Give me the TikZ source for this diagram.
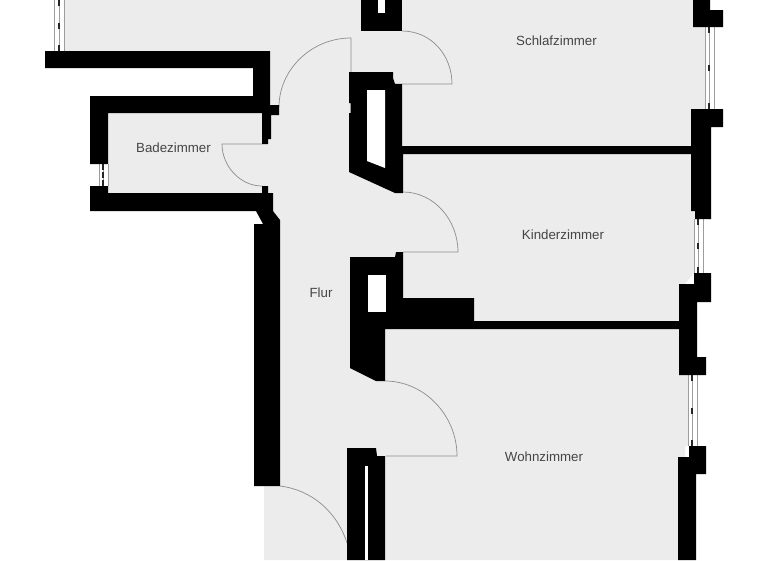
\documentclass[tikz,border=0pt]{standalone}
\usepackage{fontspec}
\setmainfont{Liberation Sans}
\definecolor{floorgray}{HTML}{ECECEC}
\definecolor{doorline}{HTML}{8C8C8C}
\definecolor{labeltext}{HTML}{454545}
\newcommand{\winV}[5]{%
  \draw[winline] (#1,#4) -- (#1,#5);
  \draw[winline] (#2,#4) -- (#2,#5);
  \draw[winline] (#3,#4) -- (#3,#5);
  \draw[windash] (#2,#4) -- ++(0,6);
  \draw[windash] (#2,#5) -- ++(0,-6);
  \draw[windash] (#2,{(#4+#5)/2-3}) -- ++(0,6);
}
\tikzset{
  wall/.style={fill=black,draw=none},
  hole/.style={fill=white,draw=none},
  doorarc/.style={draw=doorline,line width=0.7pt},
  winline/.style={draw=doorline!85,line width=0.9pt},
  windash/.style={draw=black!85,line width=1.6pt},
  roomlabel/.style={text=labeltext,font=\fontsize{13.3}{16}\selectfont,inner sep=0pt}
}
\begin{document}
\begin{tikzpicture}[x=1pt,y=-1pt]
\useasboundingbox (0,0) rectangle (768,560);
\fill[white] (0,0) rectangle (768,560);
% floor
\fill[floorgray] (64,0) -- (700,0) -- (700,27) -- (705,27) -- (705,109) -- (700,109) -- (700,219) -- (694,219) -- (694,273) -- (685,284) -- (685,375) -- (688,375) -- (688,446) -- (685,446) -- (685,560) -- (264,560) -- (264,486) -- (270,486) -- (270,205) -- (262,205) -- (262,193) -- (108,193) -- (108,113) -- (262,113) -- (262,105) -- (270,105) -- (270,51) -- (64,51) -- cycle;
% windows
\winV{54}{59}{64}{0}{51}
\winV{705}{709}{714}{27}{109}
\winV{694}{698}{703}{219}{273}
\winV{688}{692}{697}{375}{446}
\winV{99}{103}{108}{164}{186}
% door swings
\draw[doorarc] (402,31) .. controls (431,31) and (452,55) .. (452,84) -- (395,84);
\draw[doorarc] (351,72) -- (351,38) .. controls (311,38) and (279,70) .. (279,107);
\draw[doorarc] (262,144) -- (222,144) .. controls (222,166) and (240,186) .. (262,186);
\draw[doorarc] (403,192) .. controls (434,192) and (458,220) .. (458,252) -- (403,252);
\draw[doorarc] (385,381) .. controls (424,381) and (457,415) .. (457,456) -- (386,456);
\draw[doorarc] (280,486) .. controls (312,490) and (338,512) .. (348,546);
% outer left walls
\fill[wall] (45,51) -- (270,51) -- (270,105) -- (279,105) -- (279,115) -- (271,115) -- (271,139) -- (268,139) -- (268,144) -- (262,144) -- (262,113) -- (108,113) -- (108,164) -- (90,164) -- (90,96) -- (253,96) -- (253,68) -- (45,68) -- cycle;
\fill[wall] (262,186) -- (268,186) -- (268,193) -- (273,193) -- (273,211) -- (280,220) -- (280,486) -- (254,486) -- (254,224) -- (263,224) -- (256,211) -- (90,211) -- (90,186) -- (108,186) -- (108,193) -- (262,193) -- cycle;
% central walls
\fill[wall] (361,0) rectangle (402,31);
\fill[hole] (378,0) rectangle (385,13);
\fill[wall] (349,72) -- (393,72) -- (393,78) -- (395,84) -- (402,84) -- (402,146) -- (691,146) -- (691,154) -- (403,154) -- (403,193) -- (395,193) -- (349,172) -- (349,113) -- (350.5,113) -- (350.5,103) -- (349,103) -- cycle;
\fill[hole] (367,90) -- (385,90) -- (385,168) -- (367,161) -- cycle;
\fill[wall] (350,257) -- (395,257) -- (396,252) -- (403,252) -- (403,298) -- (474,298) -- (474,321) -- (679,321) -- (679,329) -- (385,329) -- (385,381) -- (376,381) -- (350,368) -- cycle;
\fill[hole] (368,275) rectangle (386,312);
\fill[wall] (347,448) -- (376,448) -- (377,456) -- (385,456) -- (385,560) -- (347,560) -- cycle;
\fill[hole] (365,466) rectangle (368,560);
% right walls
\fill[wall] (693,0) -- (710,0) -- (710,10) -- (723,10) -- (723,27) -- (693,27) -- cycle;
\fill[wall] (691,109) -- (723,109) -- (723,127) -- (711,127) -- (711,219) -- (695,219) -- (695,211) -- (691,211) -- cycle;
\fill[wall] (694,273) -- (711,273) -- (711,302) -- (697,302) -- (697,357) -- (706,357) -- (706,375) -- (679,375) -- (679,284) -- (694,284) -- cycle;
\fill[wall] (689,446) -- (706,446) -- (706,474) -- (696,474) -- (696,560) -- (678,560) -- (678,457) -- (689,457) -- cycle;
% labels
\node[roomlabel] (schlaf) at (556.5,41) {Schlafzimmer};
\node[roomlabel] (kinder) at (563,235) {Kinderzimmer};
\node[roomlabel] (bad) at (173.5,148) {Badezimmer};
\node[roomlabel] (flur) at (321,292.5) {Flur};
\node[roomlabel] (wohn) at (544,457) {Wohnzimmer};
\end{tikzpicture}
\end{document}
